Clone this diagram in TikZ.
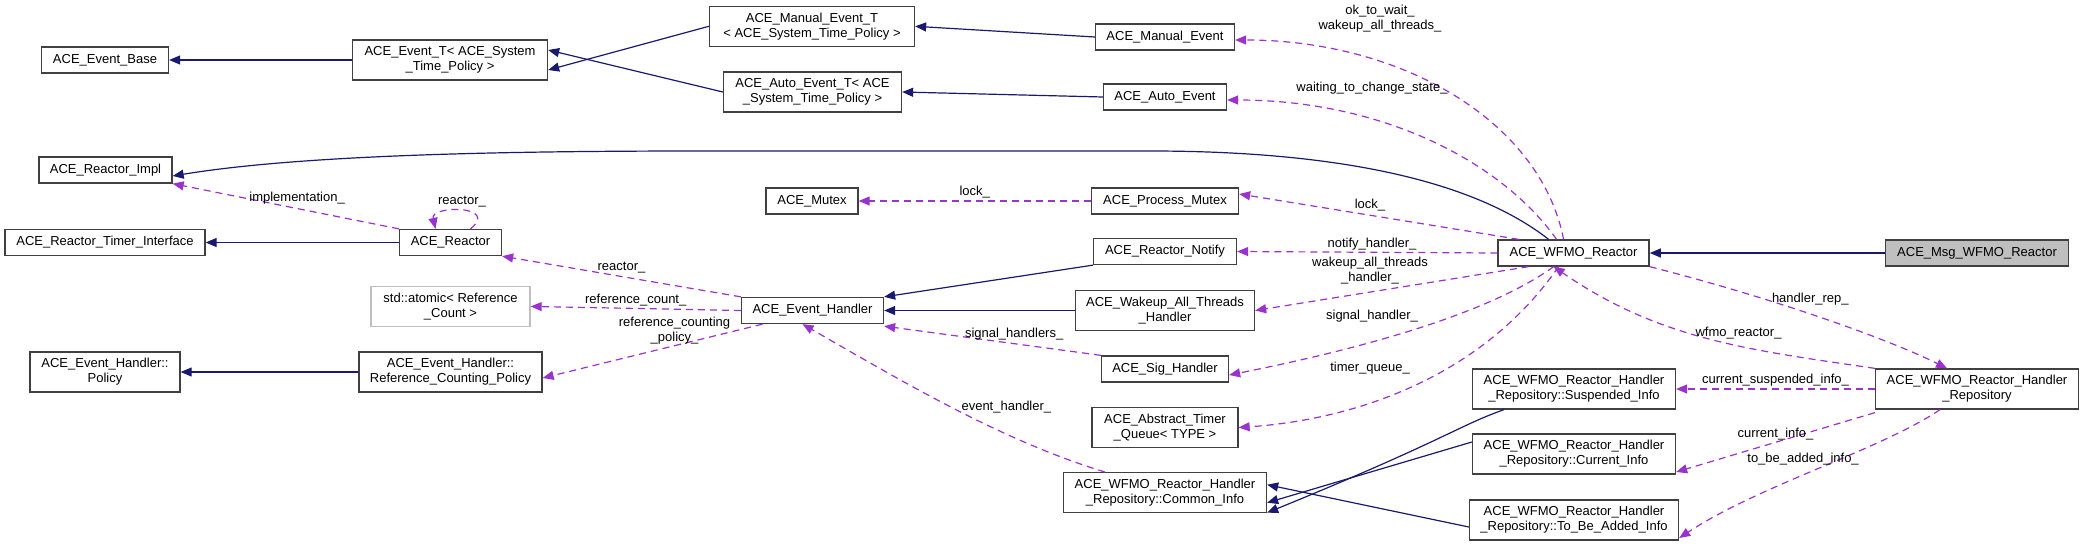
\documentclass[tikz,border=0pt]{standalone}
\usepackage{fontspec}
\setmainfont{Liberation Sans}
\usetikzlibrary{arrows.meta}
\definecolor{inh}{HTML}{191970}
\definecolor{usg}{HTML}{9A32CD}
\definecolor{bd}{HTML}{404040}
\begin{document}
\begin{tikzpicture}[x=1pt,y=-1pt,
  box/.style={draw=bd,line width=1.3pt,fill=white,inner sep=0pt,align=center,font=\fontsize{13}{15}\selectfont,minimum height=26},
  tall/.style={box,minimum height=40},
  lab/.style={font=\fontsize{13}{15}\selectfont,align=center,inner sep=0pt},
  inhe/.style={draw=inh,line width=1.2pt,-{Triangle[length=11pt,width=9pt]}},
  use/.style={draw=usg,line width=1.2pt,dash pattern=on 7pt off 5pt,-{Triangle[length=11pt,width=9pt]}}]
\useasboundingbox (0,0) rectangle (2084,546);
% nodes
\node[box,minimum width=127] (eb) at (105,60) {ACE\_Event\_Base};
\node[tall,minimum width=195] (et) at (450,60) {ACE\_Event\_T< ACE\_System\\\_Time\_Policy >};
\node[box,minimum width=133] (ri) at (105.5,170) {ACE\_Reactor\_Impl};
\node[box,minimum width=200] (rti) at (105,242.5) {ACE\_Reactor\_Timer\_Interface};
\node[box,minimum width=102] (re) at (450.5,242.5) {ACE\_Reactor};
\node[tall,minimum width=159,draw=gray!50] (at) at (450.5,306.4) {std::atomic< Reference\\\_Count >};
\node[tall,minimum width=150] (po) at (105,372) {ACE\_Event\_Handler::\\Policy};
\node[tall,minimum width=183] (rcp) at (450.5,372) {ACE\_Event\_Handler::\\Reference\_Counting\_Policy};
\node[tall,minimum width=205] (met) at (812,26.3) {ACE\_Manual\_Event\_T\\< ACE\_System\_Time\_Policy >};
\node[tall,minimum width=178] (aet) at (812.5,92) {ACE\_Auto\_Event\_T< ACE\\\_System\_Time\_Policy >};
\node[box,minimum width=139] (me) at (1165,37) {ACE\_Manual\_Event};
\node[box,minimum width=123] (ae) at (1165,97) {ACE\_Auto\_Event};
\node[box,minimum width=92] (mu) at (812,201) {ACE\_Mutex};
\node[box,minimum width=147] (pm) at (1165,201) {ACE\_Process\_Mutex};
\node[box,minimum width=143] (rn) at (1165,251.5) {ACE\_Reactor\_Notify};
\node[box,minimum width=142] (eh) at (812.5,310.5) {ACE\_Event\_Handler};
\node[tall,minimum width=179] (wa) at (1165,310.5) {ACE\_Wakeup\_All\_Threads\\\_Handler};
\node[box,minimum width=127] (sh) at (1165,369) {ACE\_Sig\_Handler};
\node[tall,minimum width=146] (tq) at (1165,427.5) {ACE\_Abstract\_Timer\\\_Queue< TYPE >};
\node[tall,minimum width=203] (ci) at (1165,492.7) {ACE\_WFMO\_Reactor\_Handler\\\_Repository::Common\_Info};
\node[box,minimum width=151] (wr) at (1573.6,253) {ACE\_WFMO\_Reactor};
\node[box,minimum width=183,fill=gray!50] (msg) at (1977,253) {ACE\_Msg\_WFMO\_Reactor};
\node[tall,minimum width=203] (hr) at (1977,389) {ACE\_WFMO\_Reactor\_Handler\\\_Repository};
\node[tall,minimum width=203] (su) at (1574,389) {ACE\_WFMO\_Reactor\_Handler\\\_Repository::Suspended\_Info};
\node[tall,minimum width=203] (cu) at (1574,454) {ACE\_WFMO\_Reactor\_Handler\\\_Repository::Current\_Info};
\node[tall,minimum width=209] (tb) at (1574,520) {ACE\_WFMO\_Reactor\_Handler\\\_Repository::To\_Be\_Added\_Info};
% inheritance
\draw[inhe] (et.west) -- (eb.east);
\draw[inhe] (met.west) -- ([yshift=-10]et.east);
\draw[inhe] (aet.west) -- ([yshift=10]et.east);
\draw[inhe] (me.west) -- (met.east);
\draw[inhe] (ae.west) -- (aet.east);
\draw[inhe] ([xshift=-25]wr.north) .. controls (1460,170) and (1300,151) .. (1150,151) -- (700,151) .. controls (500,151) and (300,155) .. ([yshift=-6]ri.east);
\draw[inhe] (re.west) -- (rti.east);
\draw[inhe] (rcp.west) -- (po.east);
\draw[inhe] (rn.south west) -- (eh.north east);
\draw[inhe] (wa.west) -- (eh.east);
\draw[inhe] (msg.west) -- (wr.east);
\draw[inhe] ([xshift=-70]su.south) .. controls (1460,425) and (1445,440) .. ([yshift=-20]ci.east);
\draw[inhe] ([yshift=12]cu.west) -- ([yshift=-10]ci.east);
\draw[inhe] ([yshift=-7]tb.west) -- ([yshift=8]ci.east);
% usage
\draw[use] (re.north west) -- node[lab,above=4pt,pos=0.45]{implementation\_} (ri.south east);
\draw[use] ([xshift=20]re.north) .. controls (500,205) and (430,205) .. node[lab,above=3pt]{reactor\_} ([xshift=-15]re.north);
\draw[use] (eh.north west) -- node[lab,above=3pt]{reactor\_} (re.south east);
\draw[use] (eh.west) -- node[lab,above=2pt]{reference\_count\_} (at.east);
\draw[use] ([xshift=-50]eh.south) -- node[lab,above=1pt,pos=0.4]{reference\_counting\\\_policy\_} ([yshift=-6]rcp.east);
\draw[use] (pm.west) -- node[lab,above=2pt]{lock\_} (mu.east);
\draw[use] (sh.north west) -- node[lab,above=3pt,pos=0.4]{signal\_handlers\_} ([yshift=-2]eh.south east);
\draw[use] ([xshift=-60]ci.north) .. controls (1000,440) and (900,380) .. node[lab,right=10pt,pos=0.5]{event\_handler\_} ([xshift=-10]eh.south);
\draw[use] ([xshift=-10]wr.north) .. controls (1540,120) and (1400,40) .. ([yshift=-3]me.east);
\node[lab] at (1380,19) {ok\_to\_wait\_\\wakeup\_all\_threads\_};
\draw[use] ([xshift=-17]wr.north) .. controls (1500,160) and (1380,100) .. ([yshift=-3]ae.east);
\node[lab] at (1372,88) {waiting\_to\_change\_state\_};
\draw[use] ([xshift=-55]wr.north) -- ([yshift=7]pm.east);
\node[lab] at (1370,205) {lock\_};
\draw[use] (wr.west) -- (rn.east);
\node[lab] at (1372,244) {notify\_handler\_};
\draw[use] ([xshift=-45]wr.south) -- (wa.east);
\node[lab] at (1370,271) {wakeup\_all\_threads\\\_handler\_};
\draw[use] ([xshift=-20]wr.south) .. controls (1480,320) and (1330,355) .. ([yshift=-6]sh.east);
\node[lab] at (1372,316) {signal\_handler\_};
\draw[use] ([xshift=-15]wr.south) .. controls (1480,380) and (1350,420) .. (tq.east);
\node[lab] at (1370,368) {timer\_queue\_};
\draw[use] (wr.south east) .. controls (1780,300) and (1890,340) .. node[lab,above=8pt,pos=0.45]{handler\_rep\_} ([xshift=-30]hr.north);
\draw[use] (hr.north west) .. controls (1750,350) and (1660,340) .. node[lab,above=6pt,pos=0.4]{wfmo\_reactor\_} ([xshift=-20]wr.south);
\draw[use] (hr.west) -- node[lab,above=2pt]{current\_suspended\_info\_} (su.east);
\draw[use] ([yshift=-3]hr.south west) -- node[lab,above=2pt]{current\_info\_} ([yshift=-18]cu.east);
\draw[use] ([xshift=-37]hr.south) .. controls (1880,450) and (1760,485) .. node[lab,above=10pt,pos=0.55]{to\_be\_added\_info\_} ([yshift=-18]tb.east);
\end{tikzpicture}
\end{document}
